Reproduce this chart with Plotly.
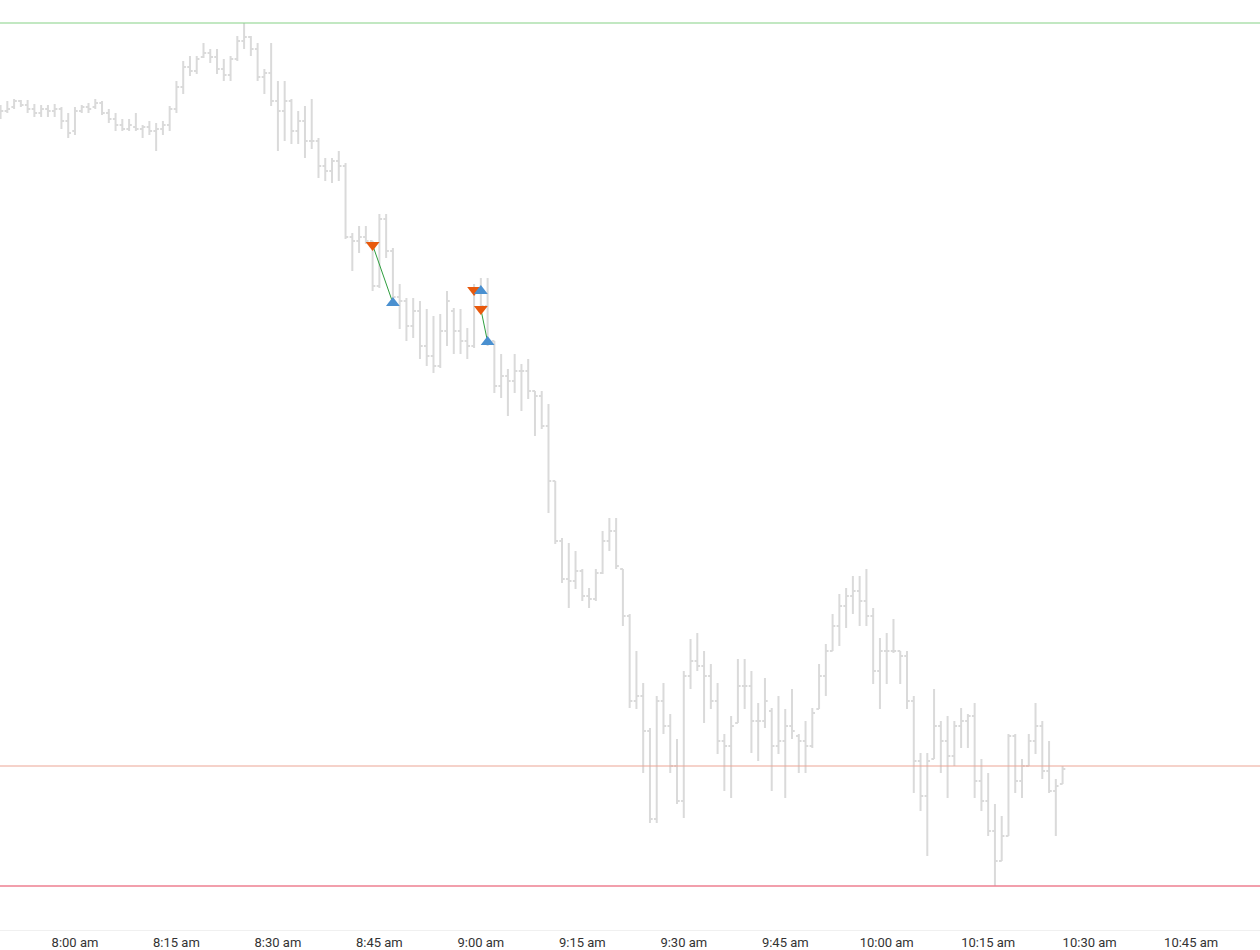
import pandas as pd
import plotly.graph_objects as go

# 1-minute bars, 7:49 am .. 10:26 am
start = "2024-01-02 07:49"
opens = [888, 890, 894, 900, 896, 892, 888, 892, 890, 892, 880, 870, 890, 894, 894, 898,
         888, 882, 876, 872, 874, 872, 874, 870, 872, 876, 892, 914, 934, 930, 944, 948,
         944, 932, 926, 942, 960, 964, 952, 924, 928, 900, 890, 900, 870, 880, 860, 860,
         835, 830, 840, 835, 764, 760, 764, 760, 715, 782, 750, 704, 700, 675, 690, 655,
         645, 635, 670, 690, 670, 660, 655, 710, 695, 660, 615, 625, 620, 630, 630, 610,
         605, 575, 520, 460, 422, 420, 430, 405, 402, 428, 460, 470, 432, 385, 300, 305,
         270, 182, 300, 275, 235, 200, 325, 340, 335, 325, 300, 260, 255, 278, 315, 315,
         280, 280, 290, 255, 260, 275, 265, 260, 255, 292, 325, 350, 375, 395, 405, 410,
         400, 385, 330, 350, 350, 350, 345, 300, 240, 205, 242, 275, 260, 245, 275, 280,
         285, 220, 200, 170, 140, 165, 265, 220, 235, 260, 275, 230, 210, 217]
highs = [896, 900, 902, 901, 901, 897, 896, 896, 897, 894, 888, 894, 896, 898, 902, 900,
         892, 888, 882, 882, 888, 876, 880, 878, 880, 895, 920, 940, 945, 945, 958, 952,
         952, 942, 945, 965, 978, 965, 958, 932, 958, 920, 920, 902, 890, 895, 902, 863,
         843, 843, 850, 838, 768, 775, 775, 760, 787, 787, 753, 717, 703, 703, 700, 692,
         685, 687, 710, 693, 692, 673, 717, 723, 723, 660, 647, 632, 647, 637, 642, 610,
         610, 597, 520, 463, 458, 450, 432, 413, 432, 470, 483, 483, 432, 387, 350, 318,
         273, 305, 318, 287, 262, 330, 362, 368, 350, 337, 318, 267, 285, 342, 342, 330,
         298, 323, 293, 305, 292, 312, 267, 280, 293, 337, 357, 387, 407, 413, 425, 425,
         432, 393, 363, 368, 382, 350, 350, 305, 248, 248, 312, 280, 285, 280, 293, 287,
         298, 242, 228, 197, 185, 267, 267, 242, 267, 298, 280, 260, 222, 235]
lows = [882, 888, 892, 894, 888, 884, 884, 884, 884, 872, 863, 866, 888, 888, 892, 886,
        878, 870, 870, 870, 870, 863, 866, 850, 866, 870, 888, 907, 925, 927, 943, 938,
        927, 920, 920, 940, 952, 945, 920, 907, 895, 850, 860, 857, 857, 843, 852, 823,
        820, 818, 820, 762, 730, 748, 757, 710, 713, 743, 698, 672, 660, 663, 642, 635,
        628, 633, 655, 647, 647, 642, 653, 690, 655, 608, 603, 585, 608, 590, 602, 565,
        572, 488, 457, 418, 393, 412, 400, 393, 400, 427, 450, 432, 375, 293, 292, 228,
        178, 178, 267, 228, 197, 183, 312, 330, 278, 292, 247, 210, 203, 278, 292, 248,
        240, 273, 210, 247, 203, 262, 228, 228, 253, 292, 305, 350, 355, 373, 387, 375,
        375, 317, 292, 317, 348, 317, 292, 208, 190, 145, 242, 228, 203, 235, 253, 253,
        203, 190, 165, 115, 140, 165, 208, 203, 235, 247, 222, 208, 165, 217]
closes = [890, 892, 900, 896, 892, 888, 892, 890, 892, 880, 868, 890, 894, 892, 898, 888,
          882, 876, 872, 876, 872, 874, 870, 872, 876, 892, 914, 934, 930, 942, 948, 944,
          932, 926, 942, 960, 964, 952, 924, 928, 900, 890, 900, 870, 880, 860, 860, 835,
          830, 840, 835, 764, 760, 764, 760, 715, 782, 750, 704, 700, 675, 690, 655, 645,
          635, 670, 700, 670, 660, 655, 710, 695, 660, 615, 625, 620, 630, 630, 610, 605,
          575, 520, 460, 422, 420, 430, 405, 402, 428, 460, 470, 435, 385, 300, 305, 270,
          182, 300, 275, 235, 200, 325, 340, 335, 325, 300, 260, 255, 275, 315, 315, 280,
          280, 300, 255, 260, 275, 270, 260, 255, 288, 325, 350, 375, 395, 405, 410, 400,
          385, 330, 350, 350, 350, 345, 300, 240, 205, 240, 275, 260, 245, 275, 280, 285,
          220, 200, 170, 140, 165, 265, 220, 235, 260, 275, 230, 210, 215, 232]

# trades: entry (short) and exit (cover)
entry_times = ["2024-01-02 08:44", "2024-01-02 08:59", "2024-01-02 09:00"]
entry_prices = [756, 711, 692]
exit_times = ["2024-01-02 08:47", "2024-01-02 09:00", "2024-01-02 09:01"]
exit_prices = [698, 710, 659]

# reference levels
high_level = 978
mid_level = 235
low_level = 115

tick_times = pd.date_range("2024-01-02 08:00", "2024-01-02 10:45", freq="15min")
tick_text = ["8:00 am", "8:15 am", "8:30 am", "8:45 am", "9:00 am", "9:15 am", "9:30 am",
             "9:45 am", "10:00 am", "10:15 am", "10:30 am", "10:45 am"]

times = pd.date_range(start, periods=len(opens), freq="1min")

fig = go.Figure()

fig.add_trace(go.Ohlc(
    x=times, open=opens, high=highs, low=lows, close=closes,
    increasing=dict(line=dict(color="#dadada", width=2)),
    decreasing=dict(line=dict(color="#dadada", width=2)),
    tickwidth=0.4, hoverinfo="skip", showlegend=False
))

# horizontal levels
for level, color, width in [(high_level, "#86d286", 1.2),
                            (mid_level, "#eca595", 1),
                            (low_level, "#ee7f90", 1.5)]:
    fig.add_hline(y=level, line=dict(color=color, width=width))

# trade connectors
for t0, p0, t1, p1 in zip(entry_times, entry_prices, exit_times, exit_prices):
    fig.add_trace(go.Scatter(x=[t0, t1], y=[p0, p1], mode="lines",
                             line=dict(color="#2e9e3e", width=1),
                             hoverinfo="skip", showlegend=False))

fig.add_trace(go.Scatter(x=entry_times, y=entry_prices, mode="markers",
                         marker=dict(symbol="triangle-down", size=12, color="#e8590c"),
                         showlegend=False))
fig.add_trace(go.Scatter(x=exit_times, y=exit_prices, mode="markers",
                         marker=dict(symbol="triangle-up", size=12, color="#4a90d0"),
                         showlegend=False))

fig.update_layout(
    width=1260, height=950,
    margin=dict(l=0, r=0, t=0, b=20),
    plot_bgcolor="white", paper_bgcolor="white",
    font=dict(family="Roboto", size=13, color="#333333"),
    xaxis=dict(
        range=["2024-01-02 07:48:55", "2024-01-02 10:55:11"],
        rangeslider=dict(visible=False),
        tickvals=tick_times, ticktext=tick_text,
        showgrid=False, zeroline=False,
        showline=True, linecolor="#f0f0f0", linewidth=1,
        ticks="", ticklabelstandoff=0,
    ),
    yaxis=dict(range=[71, 1001], visible=False, showgrid=False),
)

fig.write_html("out.html", config={"displayModeBar": False},
               post_script="document.body.style.margin='0';document.body.style.overflow='hidden';")
